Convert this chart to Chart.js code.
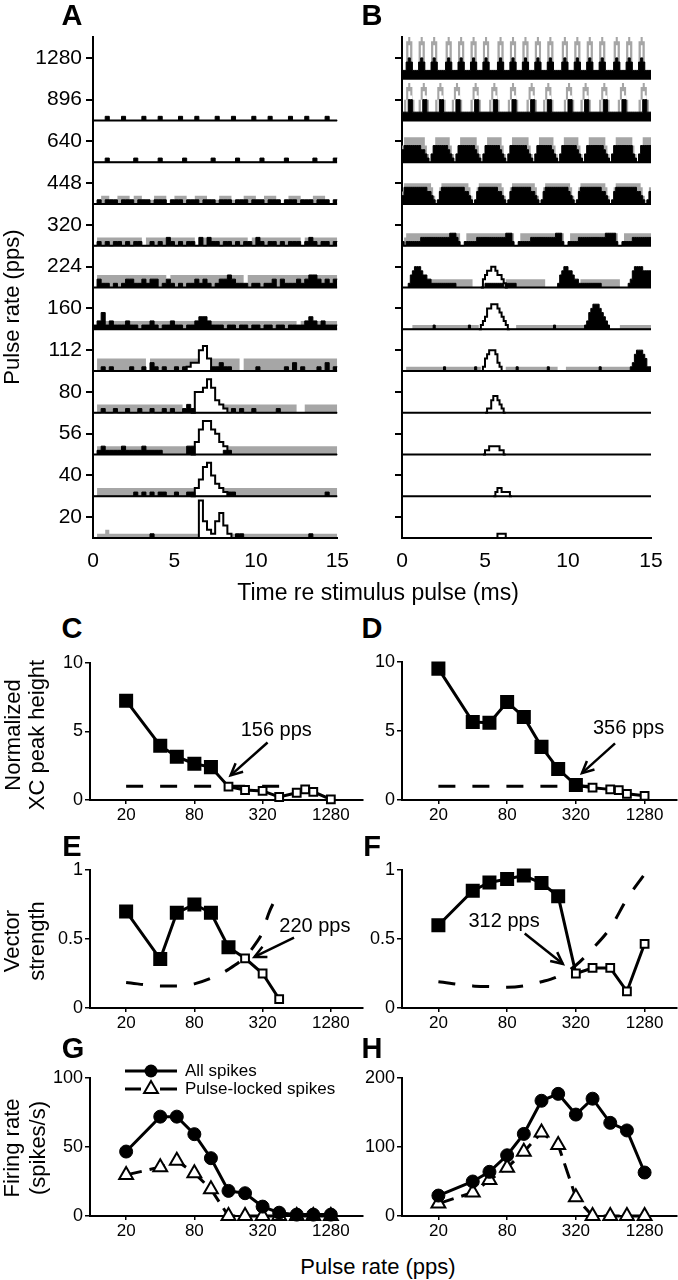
<!DOCTYPE html>
<html>
<head>
<meta charset="utf-8">
<title>Pulse-rate responses</title>
<script src="https://cdn.jsdelivr.net/npm/chart.js@4.4.1/dist/chart.umd.min.js"></script>
<style>
  body { margin: 0; background: #fff; }
  #fig { position: relative; width: 678px; height: 1280px; overflow: hidden; font-family: 'Liberation Sans', Arial, sans-serif; color: #000; }
  #fig canvas { position: absolute; }
  .t { position: absolute; white-space: nowrap; line-height: 1; font-size: 22px; transform: translate(-50%, -50%); }
  .v { transform: translate(-50%, -50%) rotate(-90deg); }
  .p { font-size: 29px; font-weight: bold; }
</style>
</head>
<body>
<div id="fig">
  <canvas id="chartA" width="360" height="580" style="left:0;top:0"></canvas>
  <canvas id="chartB" width="338" height="580" style="left:340px;top:0"></canvas>
  <canvas id="chartC" width="368" height="190" style="left:0;top:645px"></canvas>
  <canvas id="chartD" width="338" height="190" style="left:340px;top:645px"></canvas>
  <canvas id="chartE" width="368" height="185" style="left:0;top:855px"></canvas>
  <canvas id="chartF" width="338" height="185" style="left:340px;top:855px"></canvas>
  <canvas id="chartG" width="368" height="190" style="left:0;top:1060px"></canvas>
  <canvas id="chartH" width="338" height="190" style="left:340px;top:1060px"></canvas>

  <div class="t p" style="left:72px;top:15px">A</div>
  <div class="t p" style="left:372px;top:15px">B</div>
  <div class="t p" style="left:72px;top:628px">C</div>
  <div class="t p" style="left:372px;top:628px">D</div>
  <div class="t p" style="left:72px;top:846px">E</div>
  <div class="t p" style="left:372px;top:846px">F</div>
  <div class="t p" style="left:73px;top:1048px">G</div>
  <div class="t p" style="left:372px;top:1048px">H</div>

  <div class="t v" style="left:12px;top:307px">Pulse rate (pps)</div>
  <div class="t" style="left:378px;top:592px;font-size:23px">Time re stimulus pulse (ms)</div>
  <div class="t v" style="left:13px;top:735px">Normalized</div>
  <div class="t v" style="left:37px;top:735px">XC peak height</div>
  <div class="t v" style="left:12px;top:941px">Vector</div>
  <div class="t v" style="left:37px;top:941px">strength</div>
  <div class="t v" style="left:12px;top:1148px">Firing rate</div>
  <div class="t v" style="left:38px;top:1148px">(spikes/s)</div>
  <div class="t" style="left:378px;top:1267px">Pulse rate (pps)</div>
</div>
<script>
// pulse rates, one trace row each in A and B (bottom row first)
const rowRates = [20, 40, 56, 80, 112, 160, 224, 320, 448, 640, 896, 1280];

// A: histograms in 0.25 ms bins, heights in tenths of a row, '.' = nothing
const binA = 0.25;
const aGray = [
  '0112111111 1111111111 1111111111 1111111111 1111111111 1111111111',
  '0222222222 2222222222 2222222222 2222222222 2222222222 2222222222',
  '0222222222 2222222222 2222222222 2222222222 2222222222 2222222222',
  '0222222222 2222222222 2200022222 2222222222 2222222222 0022222222',
  '0333333333 3330333333 3333333333 3333330333 3333333333 3333333333',
  '0222222222 2222222222 2222202222 2222222222 2222222222 0222222222',
  '0333333333 3333333303 3333333333 3333333033 3333333333 3330333333',
  '0222222222 2202222222 2222202222 2222222202 2222222222 2022222222',
  '0122102221 2210122201 2221022210 1222101222 1022210122 2101222101',
  '', '', ''
];
const aBlack = [
  '0000000000 0000100000 0000000000 0000011000 0000000000 0001000000',
  '0000000000 1010101100 1001100000 0001100000 0000000000 0000000100',
  '0121111211 1121111000 0002200000 0011000000 0000000000 0000000000',
  '0010010010 0100100101 0012100000 0000101001 0000010000 0000000000',
  '0010100001 0010210100 1010000001 1211000000 1000000102 0100010201',
  '1241211121 1011210112 1101123321 1101101101 1011011011 1123212111',
  '0211010122 1121220121 0101121210 1223211101 1011202111 2123321212',
  '0101011010 1100101021 0101102021 1011010110 2101101011 1012101101',
  '0101110111 0111011101 1101110111 0111011101 1101110111 0111011101',
  '0001000000 1000001000 0010000001 0000010000 0100000100 0000100001',
  '0001000100 0010001000 0100010000 1000100001 0001000010 0010000100',
  ''
];
const aPeak = [
  '.......... .......... .....09421 46310.....',
  '.......... .......... ....024785 3210......',
  '.......... .......... ....036886 5320......',
  '.......... .......... ....055686 3210......',
  '.......... .......... ..01225630',
  '', '', '', '', '', '', ''
];

// B: histograms in 0.125 ms bins ('a' = a full row)
const binB = 0.125;
const bGray = [
  '', '', '', '',
  '0011111111 1111111111 1111111111 1111111100 0000000000 1111111111 1111111111 1111100001 1111111111 1111111111 1111111111 0000000000',
  '0000011111 1111111111 1111111111 1111111000 0000000000 0000011111 1111111111 1111111111 1111111100 0000000000 0000011111 1111111111',
  '0000000000 0000222222 2222222222 2222000000 0000000000 2222222222 2222222220 0000000000 0000002222 2222222222 2222200000 0000000000',
  '0233333333 3333333333 3333333300 1333333333 3333333333 3333001333 3333333333 3333333300 1333333333 3333333333 3333001333 3333333333',
  '3555555555 5555420145 5555555555 5542014555 5555555542 0145555555 5555420145 5555555555 5420145555 5555555542 0145555555 5555542014',
  '4666666666 6420246666 6664202466 6666664202 4666666642 0246666666 6420246666 6664202466 6666642024 6666666642 0246666666 6420246666',
  '2589852258 9852225898 5222589852 2225898522 2258985222 2589852222 5898522258 9852222258 9852225898 5222258985 2222589852 2222589852',
  '229a92229a 92229a9222 29a92229a9 2229a92229 a922229a92 229a92229a 92229a9222 9a922229a9 2229a92229 a92229a922 229a92229a 92229a9222'
];
const bBlack = [
  '', '', '', '',
  '0000000000 0000000000 1000000000 0000010000 0000000000 0000010000 0000000000 1000000000 0000000000 0000010000 0000000000 1245554311',
  '0000000000 0000010000 0000000000 0010000000 0000000000 0000000000 0000000000 0001000000 0000000012 4566654321 0000000000 0000000000',
  '0001345554 3322111111 1111110000 0000000000 1111111110 1111100000 0000000000 0000013455 4432211111 1111110000 0000000001 2455554444',
  '1011111112 2222222222 2223332100 1111112222 2222222222 3331001111 1122222222 2222333100 1111122222 2222222233 3331001111 1222222222',
  '2444444444 4433210134 4444444444 3321013444 4444443321 0134444444 4433210134 4444444444 3210134444 4444443321 0134444444 4443321013',
  '3444444443 3210244444 4432102444 4444432102 4444444321 0244444444 3210244444 4432102444 4444321024 4444444321 0244444444 4210244444',
  '2225522222 5522222255 2222225522 2222255222 2222552222 2225522222 2255222222 5522222222 5522222255 2222222552 2222225522 2222225522',
  '2245422245 4222454222 2454222454 2224542224 5422224542 2245422245 4222454222 4542222454 2224542224 5422245422 2245422245 4222454222'
];
const bPeak = [
  '.......... .......... .......... .......... .....01111 0',
  '.......... .......... .......... .......... ....012211 110',
  '.......... .......... .......... .........0 1122222110',
  '.......... .......... .......... .......... 0113443210',
  '.......... .......... .......... ........01 345554210.',
  '.......... .......... .......... .......012 3556665432 10',
  '.......... .......... .......... ........02 3445543321 0',
  '', '', '',
  '..5760...5 760....576 0....5760. ....5760.. ...5760... ..5760.... .5760....5 760......5 760....576 0.....5760 .....5760. .....5760.',
  '...80....8 0....80... ..80....80 ....80.... 80.....80. ...80....8 0....80... .80.....80 ....80.... 80....80.. ...80....8 0....80...'
];

// C-H: values against pulse rate
const rates = [20, 40, 56, 80, 112, 160, 224, 320, 448, 640, 896, 1280];
const rateTicks = [20, 80, 320, 1280];
const xcRates = [20, 40, 56, 80, 112, 160, 224, 320, 448, 640, 760, 896, 1280];
const cPeak = [7.25, 3.96, 3.16, 2.65, 2.4, 0.97, 0.73, 0.66, 0.22, 0.53, 0.78, 0.6, 0.05];
const cSig = [1, 1, 1, 1, 1, 0, 0, 0, 0, 0, 0, 0, 0];
const dPeak = [9.52, 5.66, 5.59, 7.1, 6.02, 3.85, 2.24, 1.08, 0.89, 0.77, 0.72, 0.45, 0.3];
const dSig = [1, 1, 1, 1, 1, 1, 1, 1, 0, 0, 0, 0, 0];
const levelRates = [20, 448];
const levelVals = [1, 1];

const eRates = [20, 40, 56, 80, 112, 160, 224, 320, 448];
const eVS = [0.7, 0.355, 0.69, 0.75, 0.69, 0.44, 0.36, 0.25, 0.065];
const eSig = [1, 1, 1, 1, 1, 1, 0, 0, 0];
const eCritRates = [20, 40, 56, 80, 112, 160, 224, 280, 320, 360, 420];
const eCrit = [0.185, 0.16, 0.16, 0.175, 0.215, 0.28, 0.37, 0.47, 0.55, 0.68, 0.8];
const fVS = [0.6, 0.85, 0.91, 0.935, 0.96, 0.905, 0.81, 0.25, 0.29, 0.29, 0.12, 0.465];
const fSig = [1, 1, 1, 1, 1, 1, 1, 0, 0, 0, 0, 0];
const fCrit = [0.19, 0.16, 0.155, 0.15, 0.16, 0.19, 0.23, 0.31, 0.43, 0.58, 0.79, 0.97];

const gAll = [46.7, 72, 72, 59.3, 41.9, 18.2, 16.5, 6.8, 2.4, 1, 1, 1];
const gLocked = [29.8, 35.4, 40, 31, 19.4, 0, 0, 0, 0, 0, 0, 0];
const hAll = [29.6, 50, 64, 88, 119, 167, 177, 147, 170, 135, 124, 63];
const hLocked = [18, 34, 52, 70, 93, 121, 103, 27, 0, 0, 0, 0];

const FONT = "'Liberation Sans', Arial, sans-serif";
Chart.defaults.font.family = FONT;
Chart.defaults.color = '#000';
const GRAY = '#a6a6a6';

function steps(str, bin, row) {
  const h = str.replace(/ /g, '').split('').map(c => c === '.' ? null : parseInt(c, 36));
  const pts = h.map((v, k) => ({x: k * bin, y: v === null ? null : row + v / 10}));
  pts.push({x: h.length * bin, y: pts[pts.length - 1].y});
  return pts;
}

function traceSets(gray, black, peak, bin, plainFrom) {
  const sets = [];
  rowRates.forEach((r, i) => {
    const base = {stepped: true, pointRadius: 0, fill: {value: i}, clip: false};
    if (gray[i]) sets.push({...base, data: steps(gray[i], bin, i), backgroundColor: GRAY,
      borderColor: 'rgba(0,0,0,0)', borderWidth: 1, order: 4});
    if (peak[i]) sets.push({...base, data: steps(peak[i], bin, i), backgroundColor: '#fff',
      borderColor: i >= plainFrom ? 'rgba(0,0,0,0)' : '#000', borderWidth: 2, order: 3});
    if (black[i]) sets.push({...base, data: steps(black[i], bin, i), backgroundColor: '#000',
      borderColor: '#000', borderWidth: 1, order: 2});
    if (gray[i] || black[i] || peak[i]) {
      sets.push({data: [{x: 0, y: i}, {x: 15, y: i}], borderColor: '#000', borderWidth: 2,
        pointRadius: 0, fill: false, order: 1});
    }
  });
  return sets;
}

function traceChart(id, gray, black, peak, bin, labels, yW, padRight, plainFrom) {
  return new Chart(document.getElementById(id), {
    type: 'line',
    data: {datasets: traceSets(gray, black, peak, bin, plainFrom)},
    options: {
      responsive: false, animation: false, events: [],
      layout: {autoPadding: false, padding: {top: 37, right: padRight, left: 0, bottom: 0}},
      plugins: {legend: {display: false}, tooltip: {enabled: false}, filler: {drawTime: 'beforeDatasetDraw'}},
      scales: {
        x: {
          type: 'linear', min: 0, max: 15,
          ticks: {stepSize: 5, color: '#000', font: {size: 21}, padding: 11, maxRotation: 0},
          grid: {drawOnChartArea: false, drawTicks: false},
          border: {color: '#000', width: 2},
          afterFit: s => { s.height = 42; }
        },
        y: {
          type: 'linear', min: 0, max: 12,
          afterBuildTicks: a => { a.ticks = rowRates.map((r, i) => ({value: i + 0.5})); },
          ticks: {display: labels, callback: (v, i) => String(rowRates[i]), color: '#000', font: {size: 21}, padding: 4},
          grid: {drawOnChartArea: false, color: '#000', lineWidth: 2, tickLength: 7},
          border: {color: '#000', width: 2},
          afterFit: s => { s.width = yW; }
        }
      }
    }
  });
}

traceChart('chartA', aGray, aBlack, aPeak, binA, true, 93, 20, 99);
traceChart('chartB', bGray, bBlack, bPeak, binB, false, 62, 27, 10);

function logScales(yMax, yW, xH) {
  return {
    x: {
      type: 'logarithmic', min: 9.6, max: 2460,
      afterBuildTicks: a => { a.ticks = rateTicks.map(v => ({value: v})); },
      ticks: {callback: v => String(v), color: '#000', font: {size: 17}, padding: 1, maxRotation: 0, autoSkip: false},
      grid: {drawOnChartArea: false, color: '#000', lineWidth: 1.5, tickLength: 4},
      border: {color: '#000', width: 2},
      afterFit: s => { s.height = xH; }
    },
    y: {
      type: 'linear', min: 0, max: yMax,
      afterBuildTicks: a => { a.ticks = [0, yMax / 2, yMax].map(v => ({value: v})); },
      ticks: {callback: v => String(v), color: '#000', font: {size: 18}, padding: 2},
      grid: {drawOnChartArea: false, color: '#000', lineWidth: 1.5, tickLength: 5},
      border: {color: '#000', width: 2},
      afterFit: s => { s.width = yW; }
    }
  };
}

function rateChart(id, datasets, yMax, yW, padTop, padRight, xH, extra) {
  return new Chart(document.getElementById(id), {
    type: 'line',
    data: {datasets: datasets},
    options: {
      responsive: false, animation: false, events: [],
      layout: {autoPadding: false, padding: {top: padTop, right: padRight, left: 0, bottom: 0}},
      plugins: {legend: {display: false}, tooltip: {enabled: false}},
      scales: logScales(yMax, yW, xH)
    },
    plugins: extra || []
  });
}

function pts(xs, ys) {
  return xs.map((x, i) => ({x: x, y: ys[i]}));
}

function sigLine(xs, ys, sig) {
  return {
    data: pts(xs, ys), borderColor: '#000', borderWidth: 3, pointStyle: 'rect',
    pointRadius: sig.map(s => s ? 8.5 : 5.5),
    pointBackgroundColor: sig.map(s => s ? '#000' : '#fff'),
    pointBorderColor: '#000', pointBorderWidth: 2, clip: false, order: 1
  };
}

function dashLine(xs, ys, smooth) {
  return {
    data: pts(xs, ys), borderColor: '#000', borderWidth: 3, borderDash: [17, 17],
    pointRadius: 0, tension: smooth ? 0.4 : 0, cubicInterpolationMode: 'monotone',
    clip: false, order: 2
  };
}

// text label plus arrow, placed in data units
function note(text, at, from, to) {
  return {
    id: 'note',
    afterDatasetsDraw(chart) {
      const ctx = chart.ctx, x = chart.scales.x, y = chart.scales.y;
      const tx = x.getPixelForValue(at[0]), ty = y.getPixelForValue(at[1]);
      const fx = x.getPixelForValue(from[0]), fy = y.getPixelForValue(from[1]);
      const hx = x.getPixelForValue(to[0]), hy = y.getPixelForValue(to[1]);
      ctx.save();
      ctx.font = '20px ' + FONT;
      ctx.fillStyle = '#000';
      ctx.textBaseline = 'middle';
      ctx.fillText(text, tx, ty);
      ctx.strokeStyle = '#000';
      ctx.lineWidth = 2.5;
      ctx.beginPath();
      ctx.moveTo(fx, fy);
      ctx.lineTo(hx, hy);
      ctx.stroke();
      const a = Math.atan2(hy - fy, hx - fx);
      ctx.beginPath();
      ctx.moveTo(hx - 13 * Math.cos(a - 0.45), hy - 13 * Math.sin(a - 0.45));
      ctx.lineTo(hx, hy);
      ctx.lineTo(hx - 13 * Math.cos(a + 0.45), hy - 13 * Math.sin(a + 0.45));
      ctx.stroke();
      ctx.restore();
    }
  };
}

const spikeKey = {
  id: 'spikeKey',
  afterDatasetsDraw(chart) {
    const ctx = chart.ctx, a = chart.chartArea;
    const xm = a.left + 61, y1 = a.top - 7, y2 = a.top + 11;
    ctx.save();
    ctx.strokeStyle = '#000';
    ctx.lineWidth = 3;
    ctx.beginPath();
    ctx.moveTo(a.left + 35, y1); ctx.lineTo(a.left + 87, y1);
    ctx.moveTo(a.left + 35, y2); ctx.lineTo(a.left + 51, y2);
    ctx.moveTo(a.left + 70, y2); ctx.lineTo(a.left + 87, y2);
    ctx.stroke();
    ctx.fillStyle = '#000';
    ctx.beginPath();
    ctx.arc(xm, y1, 6.5, 0, Math.PI * 2);
    ctx.fill();
    ctx.lineWidth = 2;
    ctx.fillStyle = '#fff';
    ctx.beginPath();
    ctx.moveTo(xm, y2 - 8);
    ctx.lineTo(xm + 6.93, y2 + 4);
    ctx.lineTo(xm - 6.93, y2 + 4);
    ctx.closePath();
    ctx.fill();
    ctx.stroke();
    ctx.fillStyle = '#000';
    ctx.font = '17px ' + FONT;
    ctx.textBaseline = 'middle';
    ctx.fillText('All spikes', a.left + 95, y1);
    ctx.fillText('Pulse-locked spikes', a.left + 95, y2);
    ctx.restore();
  }
};

function spikeSets(all, locked) {
  return [
    {data: pts(rates, all), borderColor: '#000', borderWidth: 3, pointStyle: 'circle', pointRadius: 6.5,
      pointBackgroundColor: '#000', pointBorderColor: '#000', pointBorderWidth: 1, clip: false, order: 1},
    {data: pts(rates, locked), borderColor: '#000', borderWidth: 3, borderDash: [16, 8], pointStyle: 'triangle',
      pointRadius: 8, pointBackgroundColor: '#fff', pointBorderColor: '#000', pointBorderWidth: 2, clip: false, order: 2}
  ];
}

rateChart('chartC', [sigLine(xcRates, cPeak, cSig), dashLine(levelRates, levelVals, false)],
  10, 90, 18, 5, 35, [note('156 pps', [205, 5.1], [354, 4.2], [167, 1.8])]);
rateChart('chartD', [sigLine(xcRates, dPeak, dSig), dashLine(levelRates, levelVals, false)],
  10, 62, 17, 1, 35, [note('356 pps', [452, 5.2], [705, 4.1], [362, 1.95])]);
rateChart('chartE', [sigLine(eRates, eVS, eSig), dashLine(eCritRates, eCrit, true)],
  1, 90, 15, 5, 32, [note('220 pps', [449, 0.59], [606, 0.51], [271, 0.37])]);
rateChart('chartF', [sigLine(rates, fVS, fSig), dashLine(rates, fCrit, true)],
  1, 62, 15, 1, 32, [note('312 pps', [36.7, 0.63], [114, 0.54], [246, 0.32])]);
rateChart('chartG', spikeSets(gAll, gLocked), 100, 90, 18, 5, 34, [spikeKey]);
rateChart('chartH', spikeSets(hAll, hLocked), 200, 62, 18, 1, 34);
</script>
</body>
</html>
